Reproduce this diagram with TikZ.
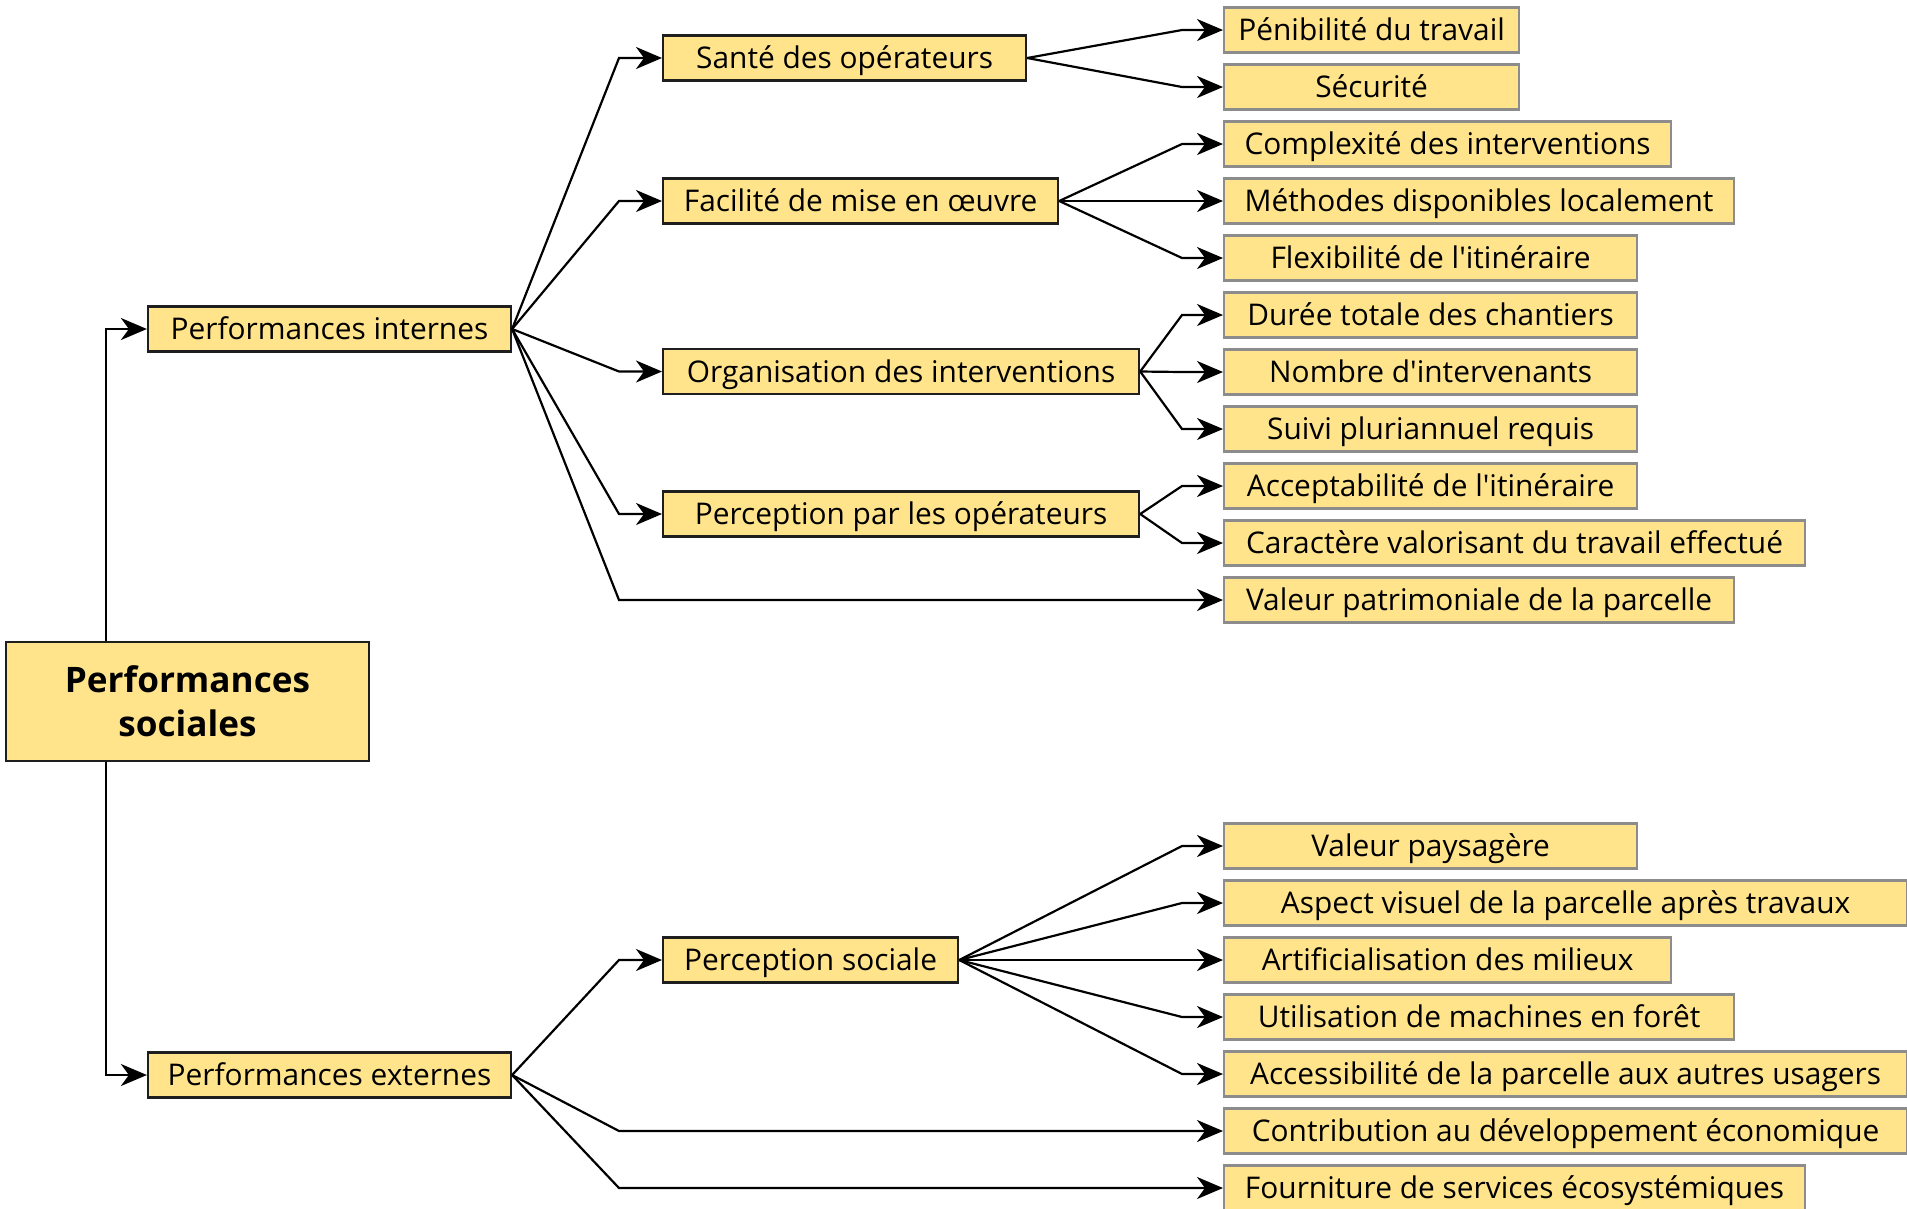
\documentclass[tikz,border=0pt]{standalone}
\usepackage{fontspec}
\newfontfamily\dfont{Open Sans}
\usetikzlibrary{arrows.meta}
\definecolor{boxfill}{RGB}{255,228,140}
\definecolor{darkline}{RGB}{30,30,30}
\definecolor{leafline}{RGB}{140,140,140}
\tikzset{
  base/.style={rectangle, fill=boxfill, inner xsep=0pt, inner ysep=0pt, align=center,
    minimum height=0.9cm, text height=12.1pt, text depth=0pt, font=\dfont\fontsize{17}{20}\selectfont},
  rootbox/.style={rectangle, fill=boxfill, inner sep=0pt, align=center, draw=darkline, line width=1.3pt,
    minimum width=7.26cm, minimum height=2.38cm, font=\dfont\fontsize{20}{25}\selectfont\bfseries},
  topbox/.style={base, draw=darkline, line width=1.3pt, minimum width=7.26cm},
  midbox/.style={base, draw=darkline, line width=1.3pt, anchor=west},
  leafbox/.style={base, draw=leafline, line width=1.3pt, anchor=west},
  conn/.style={draw=black, line width=1.25pt, -{Stealth[length=0.52cm, width=0.44cm, inset=0.16cm]}}
}
\begin{document}
\begin{tikzpicture}
\begin{scope}[x=0.02cm, y=-0.02cm]
\useasboundingbox (0,0) rectangle (1907,1208);
\coordinate (rx) at (106,0);
\coordinate (ea) at (619,0);
\coordinate (eb) at (1182,0);

\node[rootbox] (root) at (187.5,701.5) {Performances\\sociales};
\node[topbox] (pi) at (329.5,329) {Performances internes};
\node[topbox] (pe) at (329.5,1075) {Performances externes};

\node[midbox, minimum width=7.26cm] (sa) at (662,58) {Santé des opérateurs};
\node[midbox, minimum width=7.9cm] (fa) at (662,201) {Facilité de mise en œuvre};
\node[midbox, minimum width=9.52cm] (or) at (662,371.5) {Organisation des interventions};
\node[midbox, minimum width=9.52cm] (po) at (662,514) {Perception par les opérateurs};
\node[midbox, minimum width=5.9cm] (ps) at (662,960) {Perception sociale};

\node[leafbox, minimum width=5.9cm] (l1) at (1223,30) {Pénibilité du travail};
\node[leafbox, minimum width=5.9cm] (l2) at (1223,87) {Sécurité};
\node[leafbox, minimum width=8.94cm] (l3) at (1223,144) {Complexité des interventions};
\node[leafbox, minimum width=10.2cm] (l4) at (1223,201) {Méthodes disponibles localement};
\node[leafbox, minimum width=8.26cm] (l5) at (1223,258) {Flexibilité de l'itinéraire};
\node[leafbox, minimum width=8.26cm] (l6) at (1223,315) {Durée totale des chantiers};
\node[leafbox, minimum width=8.26cm] (l7) at (1223,372) {Nombre d'intervenants};
\node[leafbox, minimum width=8.26cm] (l8) at (1223,429) {Suivi pluriannuel requis};
\node[leafbox, minimum width=8.26cm] (l9) at (1223,486) {Acceptabilité de l'itinéraire};
\node[leafbox, minimum width=11.62cm] (l10) at (1223,543) {Caractère valorisant du travail effectué};
\node[leafbox, minimum width=10.2cm] (l11) at (1223,600) {Valeur patrimoniale de la parcelle};

\node[leafbox, minimum width=8.26cm] (m1) at (1223,846) {Valeur paysagère};
\node[leafbox, minimum width=13.66cm] (m2) at (1223,903) {Aspect visuel de la parcelle après travaux};
\node[leafbox, minimum width=8.94cm] (m3) at (1223,960) {Artificialisation des milieux};
\node[leafbox, minimum width=10.2cm] (m4) at (1223,1017) {Utilisation de machines en forêt};
\node[leafbox, minimum width=13.66cm] (m5) at (1223,1074) {Accessibilité de la parcelle aux autres usagers};
\node[leafbox, minimum width=13.66cm] (m6) at (1223,1131) {Contribution au développement économique};
\node[leafbox, minimum width=11.62cm] (m7) at (1223,1188) {Fourniture de services écosystémiques};

% root
\draw[conn] (root.north -| rx) -- (pi.west -| rx) -- (pi.west);
\draw[conn] (root.south -| rx) -- (pe.west -| rx) -- (pe.west);

% internes
\foreach \c in {sa,fa,or,po,l11}
  \draw[conn] (pi.east) -- (\c.west -| ea) -- (\c.west);
% externes
\foreach \c in {ps,m6,m7}
  \draw[conn] (pe.east) -- (\c.west -| ea) -- (\c.west);

% mid to leaves
\foreach \c in {l1,l2}
  \draw[conn] (sa.east) -- (\c.west -| eb) -- (\c.west);
\foreach \c in {l3,l4,l5}
  \draw[conn] (fa.east) -- (\c.west -| eb) -- (\c.west);
\foreach \c in {l6,l7,l8}
  \draw[conn] (or.east) -- (\c.west -| eb) -- (\c.west);
\foreach \c in {l9,l10}
  \draw[conn] (po.east) -- (\c.west -| eb) -- (\c.west);
\foreach \c in {m1,m2,m3,m4,m5}
  \draw[conn] (ps.east) -- (\c.west -| eb) -- (\c.west);
\end{scope}
\end{tikzpicture}
\end{document}
